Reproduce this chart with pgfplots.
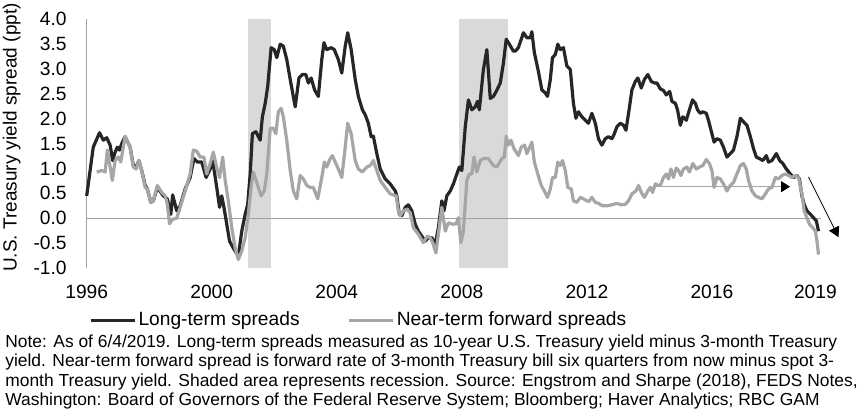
\documentclass[border=0pt]{standalone}
\usepackage{pgfplots}
\pgfplotsset{compat=1.18}
\usepackage{pgfplotstable}
\usetikzlibrary{arrows.meta}
\usepackage{fontspec}
\setmainfont{Liberation Sans}

\definecolor{longcol}{RGB}{38,38,38}
\definecolor{nearcol}{RGB}{166,166,166}
\definecolor{reccol}{RGB}{217,217,217}
\definecolor{axiscol}{RGB}{160,160,160}

% long-term spread: 10y minus 3m
\pgfplotstableread{
year val
1996.00 0.45
1996.21 1.43
1996.41 1.72
1996.53 1.57
1996.64 1.62
1996.75 1.47
1996.83 1.16
1996.91 1.33
1996.98 1.43
1997.05 1.37
1997.12 1.50
1997.23 1.64
1997.39 1.43
1997.49 1.06
1997.58 1.03
1997.67 1.16
1997.76 0.96
1997.87 0.66
1997.94 0.59
1998.05 0.32
1998.13 0.35
1998.26 0.62
1998.45 0.45
1998.58 0.39
1998.69 0.08
1998.75 0.47
1998.88 0.15
1998.99 0.25
1999.15 0.59
1999.31 0.82
1999.43 1.20
1999.54 1.13
1999.68 1.13
1999.82 0.82
1999.95 0.99
2000.03 1.16
2000.16 0.62
2000.25 0.22
2000.32 0.45
2000.39 0.22
2000.48 -0.12
2000.57 -0.46
2000.69 -0.60
2000.85 -0.76
2000.96 -0.26
2001.07 0.08
2001.15 0.28
2001.23 0.89
2001.30 1.70
2001.41 1.74
2001.55 1.57
2001.62 2.04
2001.71 2.31
2001.79 2.65
2001.90 3.43
2002.00 3.39
2002.08 3.23
2002.19 3.50
2002.29 3.46
2002.40 3.19
2002.51 2.79
2002.67 2.24
2002.79 2.82
2002.90 2.89
2003.01 2.89
2003.09 2.72
2003.18 2.82
2003.29 2.58
2003.41 2.45
2003.52 3.19
2003.59 3.53
2003.68 3.39
2003.82 3.43
2003.92 3.39
2004.05 3.19
2004.16 2.92
2004.27 3.46
2004.35 3.73
2004.46 3.39
2004.59 2.79
2004.69 2.45
2004.82 2.18
2004.91 2.08
2005.01 1.91
2005.10 1.64
2005.17 1.65
2005.28 1.30
2005.39 0.99
2005.55 0.79
2005.71 0.69
2005.87 0.55
2005.92 0.45
2006.00 0.08
2006.08 0.05
2006.19 0.22
2006.29 0.27
2006.40 0.15
2006.51 -0.12
2006.61 -0.26
2006.72 -0.36
2006.83 -0.46
2006.93 -0.39
2007.04 -0.39
2007.15 -0.53
2007.25 -0.19
2007.36 0.35
2007.43 0.15
2007.52 0.45
2007.63 0.55
2007.73 0.69
2007.84 0.89
2007.92 1.03
2008.00 0.96
2008.11 1.84
2008.21 2.38
2008.32 2.18
2008.43 2.24
2008.50 2.35
2008.56 2.18
2008.69 2.99
2008.80 3.39
2008.91 2.41
2009.01 2.45
2009.10 2.55
2009.23 2.72
2009.33 3.12
2009.42 3.60
2009.52 3.50
2009.65 3.36
2009.71 3.36
2009.81 3.43
2009.97 3.73
2010.08 3.63
2010.19 3.63
2010.24 3.75
2010.32 3.33
2010.45 2.95
2010.56 2.58
2010.67 2.52
2010.74 2.45
2010.83 2.79
2010.90 3.23
2010.99 3.29
2011.07 3.50
2011.15 3.39
2011.25 3.43
2011.36 3.06
2011.47 2.99
2011.57 2.31
2011.65 2.01
2011.73 2.14
2011.84 2.04
2011.95 1.97
2012.05 1.91
2012.16 2.11
2012.27 1.91
2012.37 1.60
2012.48 1.47
2012.59 1.60
2012.69 1.64
2012.80 1.60
2012.88 1.70
2012.96 1.84
2013.07 1.91
2013.17 1.87
2013.25 1.77
2013.35 2.18
2013.44 2.58
2013.55 2.75
2013.63 2.82
2013.74 2.62
2013.84 2.79
2013.95 2.89
2014.06 2.75
2014.16 2.72
2014.24 2.72
2014.35 2.60
2014.45 2.57
2014.54 2.48
2014.65 2.55
2014.72 2.35
2014.83 2.31
2014.90 2.18
2014.99 1.87
2015.07 2.04
2015.18 1.97
2015.28 2.18
2015.38 2.38
2015.47 2.31
2015.54 2.18
2015.63 2.11
2015.71 2.14
2015.82 2.11
2015.89 1.97
2016.00 1.70
2016.07 1.53
2016.16 1.60
2016.27 1.57
2016.37 1.43
2016.48 1.23
2016.59 1.30
2016.69 1.37
2016.80 1.64
2016.91 2.01
2017.01 1.94
2017.12 1.87
2017.23 1.64
2017.33 1.40
2017.42 1.23
2017.52 1.20
2017.63 1.16
2017.74 1.26
2017.81 1.13
2017.92 1.16
2018.06 1.30
2018.17 1.16
2018.27 1.10
2018.38 0.99
2018.51 0.89
2018.61 0.82
2018.72 0.86
2018.80 0.79
2018.88 0.45
2018.95 0.28
2019.04 0.15
2019.15 0.08
2019.25 0.01
2019.34 -0.05
2019.41 -0.26
}\longterm

% near-term forward spread
\pgfplotstableread{
year val
1996.32 0.93
1996.48 0.96
1996.59 0.93
1996.66 1.37
1996.75 1.03
1996.82 0.76
1996.91 1.16
1997.01 1.23
1997.09 1.13
1997.23 1.65
1997.39 1.43
1997.49 1.03
1997.58 0.99
1997.67 1.16
1997.76 0.96
1997.87 0.62
1997.94 0.59
1998.05 0.32
1998.13 0.35
1998.26 0.66
1998.40 0.52
1998.51 0.45
1998.58 0.28
1998.65 -0.11
1998.75 -0.02
1998.88 0.00
1998.99 0.22
1999.15 0.55
1999.31 0.89
1999.41 1.37
1999.52 1.35
1999.63 1.23
1999.75 1.23
1999.84 0.89
1999.95 1.10
2000.05 1.33
2000.18 0.96
2000.25 0.82
2000.35 1.23
2000.43 0.76
2000.53 0.35
2000.64 -0.19
2000.75 -0.60
2000.85 -0.83
2000.96 -0.66
2001.07 -0.39
2001.17 0.08
2001.26 0.62
2001.33 0.93
2001.44 0.72
2001.58 0.45
2001.68 0.55
2001.76 0.89
2001.87 1.81
2001.97 1.81
2002.05 1.70
2002.13 2.14
2002.22 2.21
2002.29 2.04
2002.40 1.57
2002.51 0.96
2002.61 0.55
2002.72 0.39
2002.83 0.86
2002.93 0.79
2003.04 0.66
2003.15 0.62
2003.25 0.62
2003.39 0.39
2003.52 0.82
2003.60 1.13
2003.68 1.03
2003.79 1.20
2003.86 1.26
2003.95 1.13
2004.05 0.99
2004.16 0.82
2004.27 1.43
2004.35 1.91
2004.46 1.70
2004.59 1.16
2004.69 0.99
2004.82 0.93
2004.96 1.03
2005.07 1.06
2005.17 1.16
2005.28 0.96
2005.39 0.76
2005.55 0.62
2005.71 0.49
2005.90 0.45
2005.97 0.15
2006.03 0.05
2006.13 0.15
2006.24 0.18
2006.35 0.11
2006.45 -0.19
2006.61 -0.32
2006.77 -0.49
2006.90 -0.36
2006.99 -0.39
2007.07 -0.49
2007.17 -0.70
2007.25 -0.32
2007.36 0.22
2007.47 -0.26
2007.57 -0.09
2007.71 -0.12
2007.82 -0.11
2007.89 0.01
2007.97 -0.49
2008.05 -0.26
2008.16 0.76
2008.24 0.89
2008.32 0.89
2008.39 1.23
2008.48 0.93
2008.59 1.16
2008.69 1.20
2008.85 1.20
2009.01 1.06
2009.12 1.03
2009.28 1.20
2009.36 1.23
2009.42 1.65
2009.49 1.47
2009.57 1.57
2009.67 1.40
2009.81 1.26
2009.90 1.43
2010.01 1.47
2010.08 1.30
2010.15 1.40
2010.24 1.53
2010.32 1.13
2010.43 0.89
2010.54 0.66
2010.64 0.55
2010.74 0.42
2010.83 0.59
2010.90 0.82
2010.99 0.82
2011.07 1.13
2011.15 1.06
2011.22 1.16
2011.31 0.96
2011.39 0.62
2011.50 0.59
2011.57 0.35
2011.68 0.32
2011.79 0.42
2011.89 0.39
2012.00 0.35
2012.07 0.34
2012.16 0.42
2012.27 0.32
2012.37 0.30
2012.50 0.25
2012.64 0.25
2012.80 0.27
2012.96 0.30
2013.10 0.27
2013.23 0.28
2013.33 0.35
2013.44 0.49
2013.57 0.55
2013.65 0.66
2013.74 0.52
2013.84 0.42
2013.95 0.55
2014.03 0.62
2014.10 0.52
2014.19 0.69
2014.29 0.66
2014.35 0.66
2014.45 0.82
2014.54 0.89
2014.61 0.79
2014.69 0.99
2014.77 0.82
2014.86 1.01
2014.93 0.96
2015.01 0.86
2015.09 0.99
2015.20 1.03
2015.28 0.93
2015.39 1.10
2015.50 0.99
2015.60 1.03
2015.71 1.06
2015.82 1.18
2015.92 1.10
2016.00 0.96
2016.07 0.62
2016.16 0.82
2016.27 0.79
2016.37 0.69
2016.48 0.55
2016.59 0.66
2016.69 0.72
2016.80 0.89
2016.91 1.06
2017.01 1.10
2017.10 0.99
2017.17 0.76
2017.28 0.55
2017.39 0.45
2017.49 0.42
2017.60 0.39
2017.71 0.49
2017.81 0.59
2017.92 0.62
2018.03 0.82
2018.13 0.79
2018.24 0.86
2018.35 0.89
2018.45 0.86
2018.56 0.82
2018.67 0.86
2018.77 0.82
2018.88 0.49
2018.95 0.15
2019.04 0.01
2019.12 -0.12
2019.23 -0.19
2019.31 -0.26
2019.36 -0.46
2019.41 -0.73
}\nearterm

\begin{document}
\begin{tikzpicture}
\begin{axis}[
    name=ax,
    scale only axis,
    width=367pt, height=124.35pt,
    xmin=1996, xmax=2019.48,
    ymin=-1, ymax=4,
    clip=false,
    axis line style={draw=none},
    tick style={draw=none},
    major tick length=0pt,
    xtick={1996,2000,2004,2008,2012,2016,2019.31},
    xticklabels={1996,2000,2004,2008,2012,2016,2019},
    ytick={-1,-0.5,0,0.5,1,1.5,2,2.5,3,3.5,4},
    yticklabels={-1.0,-0.5,0.0,0.5,1.0,1.5,2.0,2.5,3.0,3.5,4.0},
    ticklabel style={font=\fontsize{9.6}{11}\selectfont, inner sep=0pt},
    xticklabel style={anchor=north, yshift=-8.5pt},
    yticklabel style={anchor=east, xshift=-9.85pt},
    ylabel={U.S. Treasury yield spread (ppt)},
    ylabel style={font=\fontsize{9.5}{11}\selectfont, inner sep=0pt,
        at={(axis description cs:-0.0956,0.5247)}, anchor=base},
    legend columns=2,
    legend style={at={(axis description cs:0.003,-0.21)}, anchor=west,
        draw=none, fill=none, inner sep=0pt,
        font=\fontsize{9.6}{11}\selectfont,
        /tikz/every even column/.append style={column sep=22pt}},
    % sample line sticks 1pt into the text gap
    legend image code/.code={\draw[#1, overlay] (0pt,0pt) -- (22pt,0pt); \path (0pt,0pt) -- (21pt,0pt);},
]
% recessions
\addplot[fill=reccol, draw=none, forget plot] coordinates {(2001.17,-1) (2001.17,4) (2001.90,4) (2001.90,-1)} -- cycle;
\addplot[fill=reccol, draw=none, forget plot] coordinates {(2007.92,-1) (2007.92,4) (2009.48,4) (2009.48,-1)} -- cycle;
% axis lines
\addplot[axiscol, line width=0.5pt, forget plot] coordinates {(1996,-1) (1996,4)};
\addplot[axiscol, line width=0.5pt, forget plot] coordinates {(1996,0) (2019.48,0)};
% series
\addplot[longcol, line width=1.6pt, line join=round] table[x=year, y=val] {\longterm};
\addlegendentry{Long-term spreads}
\addplot[nearcol, line width=1.6pt, line join=round] table[x=year, y=val] {\nearterm};
\addlegendentry{Near-term forward spreads}
% arrows
\addplot[nearcol, line width=0.6pt, forget plot, -{Triangle[length=4.5pt, width=5.5pt, color=black, fill=black]}]
    coordinates {(2014.19,0.635) (2018.50,0.635)};
\addplot[black, line width=0.4pt, forget plot, -{Triangle[length=5pt, width=5.5pt, fill=black]}]
    coordinates {(2019.09,0.83) (2020.05,-0.38)};
\end{axis}
% note
\begin{scope}[every node/.style={anchor=base west, inner sep=0pt, font=\fontsize{8.7}{9.7}\selectfont}]
\node at ([xshift=-40.85pt, yshift=-39.75pt]ax.south west) {Note: As of 6/4/2019. Long-term spreads measured as 10-year U.S. Treasury yield minus 3-month Treasury};
\node at ([xshift=-40.85pt, yshift=-49.4pt]ax.south west) {yield. Near-term forward spread is forward rate of 3-month Treasury bill six quarters from now minus spot 3-};
\node at ([xshift=-40.85pt, yshift=-59.05pt]ax.south west) {month Treasury yield. Shaded area represents recession. Source: Engstrom and Sharpe (2018), FEDS Notes,};
\node at ([xshift=-40.85pt, yshift=-68.7pt]ax.south west) {Washington: Board of Governors of the Federal Reserve System; Bloomberg; Haver Analytics; RBC GAM};
\end{scope}
\pgfresetboundingbox
\path ([xshift=-43.35pt, yshift=-71.5pt]ax.south west) rectangle ([xshift=390.15pt, yshift=134pt]ax.south west);
\end{tikzpicture}
\end{document}
